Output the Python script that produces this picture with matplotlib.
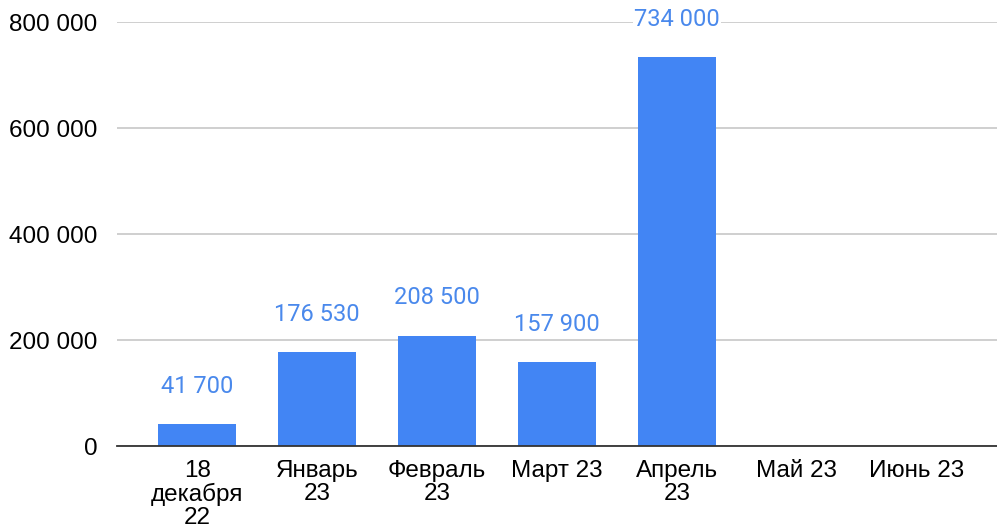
import matplotlib.pyplot as plt
import numpy as np

# --- データ ---
categories = ["18\nдекабря\n22", "Январь\n23", "Февраль\n23", "Март 23",
              "Апрель\n23", "Май 23", "Июнь 23"]
values = [41700, 176530, 208500, 157900, 734000, None, None]
labels = ["41 700", "176 530", "208 500", "157 900", "734 000", "", ""]
yticks = [0, 200000, 400000, 600000, 800000]
ytick_labels = ["0", "200 000", "400 000", "600 000", "800 000"]

BAR = "#4285F4"
LABEL = "#4a89ec"

fig = plt.figure(figsize=(9.97, 5.26), dpi=100)
ax = fig.add_axes([0.1174, 0.152, 0.8826, 0.806])

x = np.arange(len(categories))
h = [v if v is not None else 0 for v in values]
bars = ax.bar(x, h, width=0.65, color=BAR, zorder=3)

# 値ラベル
for xi, v, t in zip(x, values, labels):
    if v is None:
        continue
    ax.annotate(t, (xi, v), xytext=(0, 19), textcoords="offset points",
                ha="center", va="bottom", color=LABEL, fontsize=17,
                family="Roboto", zorder=4,
                bbox=dict(facecolor="white", edgecolor="none", pad=1))

ax.set_xlim(-0.667, len(categories) - 0.333)
ax.set_ylim(0, 800000)
ax.set_yticks(yticks)
ax.set_yticklabels(ytick_labels, fontsize=17.5, family="Liberation Sans")
ax.set_xticks(x)
ax.set_xticklabels(categories, fontsize=17.5, family="Liberation Sans",
                   linespacing=1.05)
ax.tick_params(axis="y", length=0, pad=14)
ax.tick_params(axis="x", length=0, pad=10)

ax.grid(axis="y", color="#cccccc", linewidth=1.3, zorder=0)
for s in ["top", "right", "left"]:
    ax.spines[s].set_visible(False)
ax.spines["bottom"].set_color("#333333")
ax.spines["bottom"].set_linewidth(1.3)
ax.spines["bottom"].set_zorder(5)

fig.savefig("out.png", dpi=100)
